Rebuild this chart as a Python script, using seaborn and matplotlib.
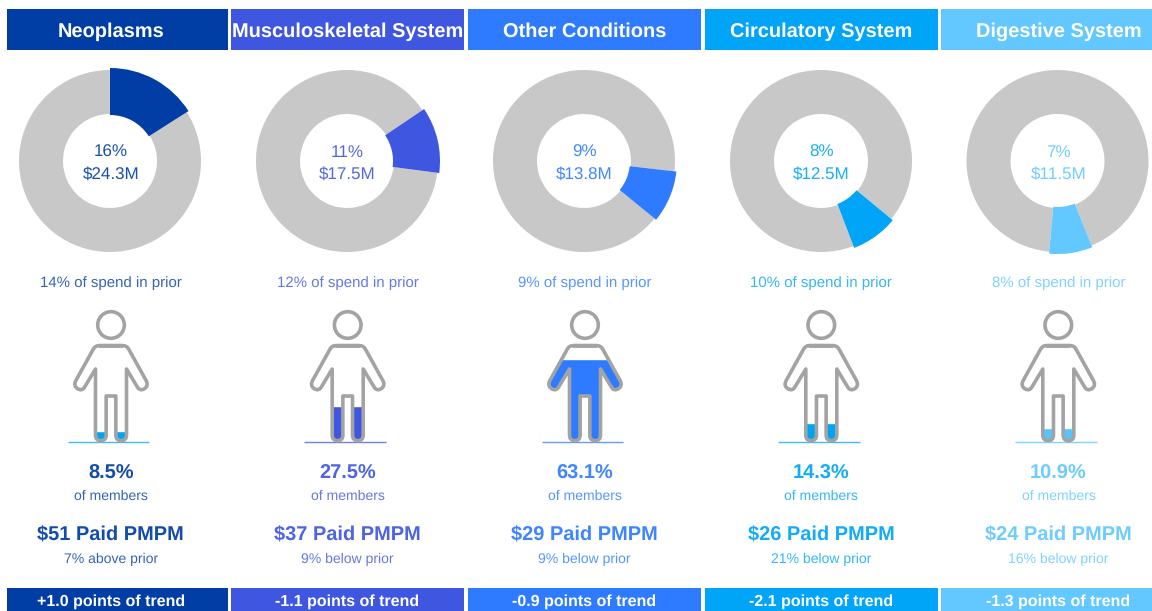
import numpy as np
import pandas as pd
import matplotlib
matplotlib.use("Agg")
import matplotlib.pyplot as plt
from matplotlib.patches import Rectangle, PathPatch
from matplotlib.path import Path
import seaborn as sns

categories = ["Neoplasms", "Musculoskeletal System", "Other Conditions", "Circulatory System", "Digestive System"]
spend_share = [16, 11, 9, 8, 7]
spend_musd = [24.3, 17.5, 13.8, 12.5, 11.5]
spend_total = 152.0
prior_share = [14, 12, 9, 10, 8]
member_share = [8.5, 27.5, 63.1, 14.3, 10.9]
pmpm = [51, 37, 29, 26, 24]
pmpm_change = ["7% above prior", "9% below prior", "9% below prior", "21% below prior", "16% below prior"]
trend = ["+1.0", "-1.1", "-0.9", "-2.1", "-1.3"]
start_angle = [90, 34, -6.5, -39.5, -68]
colors = ["#003da5", "#3f57e0", "#2e7bff", "#00a5f7", "#62c8ff"]
fill_colors = ["#00a5f2", "#3f57e0", "#2e7bff", "#00a5f2", "#55c5ff"]
gray = "#c8c8c8"

W, H = 1152, 611
sns.set_theme(style="white")
plt.rcParams["font.family"] = ["Liberation Sans", "DejaVu Sans"]
plt.rcParams["text.hinting"] = "no_hinting"
plt.rcParams["text.hinting_factor"] = 1
fig = plt.figure(figsize=(W / 100, H / 100), dpi=100, facecolor="white")

def px_axes(x0, y0, x1, y1, **kw):
    return fig.add_axes([x0 / W, 1 - y1 / H, (x1 - x0) / W, (y1 - y0) / H], **kw)

bg = px_axes(0, 0, W, H)
bg.set_xlim(0, W); bg.set_ylim(H, 0); bg.axis("off")

band_x = [(7, 228), (231, 464), (468, 701), (704.5, 938), (941, 1152)]
centers = [110, 347, 584, 821, 1057.5]
text_x = [110.7, 347.5, 584.5, 821.3, 1058.5]
person_x = [111, 347.7, 585, 821.3, 1058.3]

def yy(py):
    return (442 - py) / 1.32

def person_path():
    z = lambda zx, zy: ((zx - 243.5) / 3, yy(295 + zy / 3))
    right = [(Path.LINETO, (280, 152)), (Path.CURVE3, (292, 152)), (Path.CURVE3, (298, 165)),
             (Path.LINETO, (348, 255)), (Path.CURVE3, (358, 272)), (Path.CURVE3, (344, 281)),
             (Path.CURVE3, (330, 290)), (Path.CURVE3, (322, 275)),
             (Path.LINETO, (290, 222)), (Path.LINETO, (290, 420)),
             (Path.CURVE3, (290, 437)), (Path.CURVE3, (274, 437)),
             (Path.CURVE3, (258, 437)), (Path.CURVE3, (258, 420)),
             (Path.LINETO, (258, 303))]
    v = [z(207, 152)]
    c = [Path.MOVETO]
    for code, p in right:
        v.append(z(*p)); c.append(code)
    anchors = [(207, 152)] + [p for _, p in right]
    codes = [code for code, _ in right]
    mirrored = [(487 - a, b) for a, b in anchors][::-1]
    back = codes[::-1]
    v.append(z(*mirrored[0])); c.append(Path.LINETO)
    for code, p in zip(back, mirrored[1:]):
        v.append(z(*p)); c.append(code)
    return v, c

def label(x, y, s, **kw):
    bg.text(x, y, s, ha="center", va="baseline", **kw)

for i, name in enumerate(categories):
    col = colors[i]
    x0, x1 = band_x[i]
    tx = text_x[i]
    bg.add_patch(Rectangle((x0, 9), x1 - x0, 41, fc=col, ec="none"))
    bg.add_patch(Rectangle((x0, 587.5), x1 - x0, 24, fc=col, ec="none"))
    label(tx, 36.5, name, color="white", fontsize=14.1, fontweight="bold")
    label(tx, 605.5, f"{trend[i]} points of trend", color="white", fontsize=11.5, fontweight="bold")

    # donut
    c = centers[i]
    ax = px_axes(c - 95, 161 - 95, c + 95, 161 + 95)
    wedges, _ = ax.pie([spend_musd[i], spend_total - spend_musd[i]], colors=[col, gray], startangle=start_angle[i],
                       counterclock=False, radius=91 / 95, wedgeprops=dict(width=44 / 95, linewidth=0))
    wedges[0].set_radius(93 / 95)
    wedges[0].set_width(47 / 95)
    wedges[0].set_zorder(5)
    ax.set_xlim(-1, 1); ax.set_ylim(-1, 1); ax.set_aspect("equal")
    label(tx, 157.3, f"{spend_share[i]}%", color=col, fontsize=11.9, alpha=0.9)
    label(tx, 179.3, f"${spend_musd[i]}M", color=col, fontsize=11.9, alpha=0.9)
    label(tx, 287.3, f"{prior_share[i]}% of spend in prior", color=col, fontsize=10.5, alpha=0.8)

    # person: a bar of the member share, clipped to the figure
    px = person_x[i]
    pa = px_axes(px - 41, 310, px + 41, 442)
    pa.patch.set_alpha(0)
    sns.barplot(x=[name], y=[member_share[i]], color=fill_colors[i], saturation=1, width=1, ax=pa)
    pa.set_xlim(-0.5, 0.5); pa.set_ylim(0, 100)
    pa.axis("off")
    v, k = person_path()
    v = [(a / 82, b) for a, b in v]
    clip = PathPatch(Path(v, k), transform=pa.transData, fc="none", ec="none")
    pa.add_patch(clip)
    for bar in pa.patches:
        if bar is not clip:
            bar.set_clip_path(clip)
    outline = PathPatch(Path(v, k), fc="none", ec="#a3a3a3", lw=2.6, joinstyle="round", clip_on=False)
    pa.add_patch(outline)

    bg.add_patch(plt.Circle((px, 325), 13.3, fc="white", ec="#a3a3a3", lw=2.6))
    bg.plot([px - 43.3, px + 38.3], [442, 442], color=fill_colors[i], lw=1, alpha=0.75, solid_capstyle="butt")

    # captions
    label(tx, 479, f"{member_share[i]}%", color=col, fontsize=14.2, fontweight="bold", alpha=0.92)
    label(tx, 500, "of members", color=col, fontsize=10.3, alpha=0.8)
    label(tx, 541, f"${pmpm[i]} Paid PMPM", color=col, fontsize=14.2, fontweight="bold", alpha=0.92)
    label(tx, 563, pmpm_change[i], color=col, fontsize=10.4, alpha=0.8)

fig.savefig("out.png", dpi=100, facecolor="white")
